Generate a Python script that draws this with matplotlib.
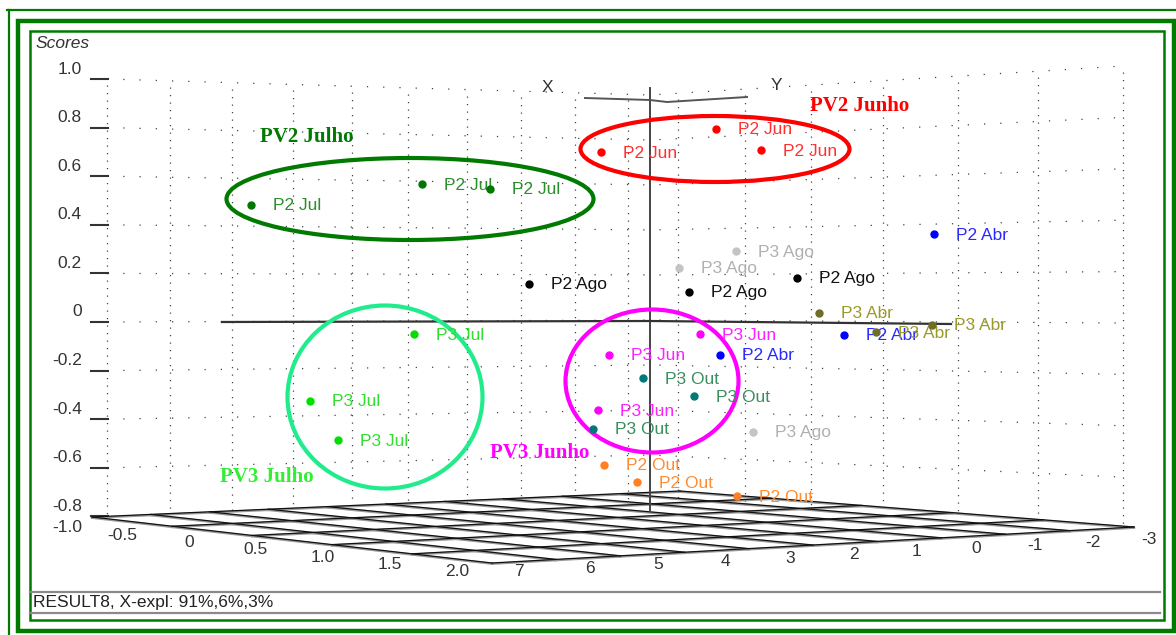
import numpy as np
import matplotlib
matplotlib.use('Agg')
import matplotlib.pyplot as plt
from matplotlib.patches import Ellipse, Rectangle

W, H = 1176, 635

# sample scores in view (screen) coordinates, three replicates per sample
names = ['P2 Jul'] * 3 + ['P2 Jun'] * 3 + ['P3 Ago'] * 3 + ['P2 Ago'] * 3 + \
        ['P2 Abr'] * 3 + ['P3 Abr'] * 3 + ['P3 Jun'] * 3 + ['P3 Out'] * 3 + \
        ['P3 Jul'] * 3 + ['P2 Out'] * 3
xs = [251, 422, 490, 601, 716, 761, 736, 679, 753, 529, 689, 797,
      934, 720, 844, 819, 876, 932, 700, 609, 598, 643, 694, 593,
      414, 310, 338, 604, 637, 737]
ys = [205, 184, 189, 152, 129, 150, 251, 268, 432, 284, 292, 278,
      234, 355, 335, 313, 332, 325, 334, 355, 410, 378, 396, 429,
      334, 401, 440, 465, 482, 496]

# marker colour, label colour
colors = {
    'P2 Jul': ('#007800', '#2a8f2a'),
    'P2 Jun': ('#ff0000', '#ff3030'),
    'P3 Ago': ('#c4c4c4', '#b0b0b0'),
    'P2 Ago': ('#000000', '#111111'),
    'P2 Abr': ('#0000ff', '#2a2aff'),
    'P3 Abr': ('#6e6e2a', '#9a9a28'),
    'P3 Jun': ('#ff00ff', '#ff20ff'),
    'P3 Out': ('#007878', '#3a8f5e'),
    'P3 Jul': ('#00e000', '#30dd30'),
    'P2 Out': ('#ff7f27', '#ff8c30'),
}

# sample groups: title, colour, title pos, ellipse centre/width/height
groups = ['PV2 Julho', 'PV2 Junho', 'PV3 Julho', 'PV3 Junho']
group_colors = ['#007a00', '#ff0000', '#33ee33', '#ff00ff']
ell_colors = ['#007a00', '#ff0000', '#20ec8c', '#ff00ff']
title_pos = [(260, 137), (810, 106), (220, 477), (490, 453)]
ell_geom = [(410, 199, 367, 82), (715, 149, 269, 66),
            (385, 397, 195, 183), (652, 381, 173, 143)]

score_ticks = [1.0, 0.8, 0.6, 0.4, 0.2, 0.0, -0.2, -0.4, -0.6, -0.8]
score_labels = ['1.0', '0.8', '0.6', '0.4', '0.2', '0', '-0.2', '-0.4', '-0.6', '-0.8']
x_ticks = ['-0.5', '0', '0.5', '1.0', '1.5', '2.0']
y_ticks = ['7', '6', '5', '4', '3', '2', '1', '0', '-1', '-2', '-3']

wall_cols = [107, 170, 232, 293, 352, 408, 467, 521, 575, 628, 678,
             745, 811, 883, 958, 1038, 1123]

SANS = 'Liberation Sans'
SERIF = 'Liberation Serif'


def wall_y(x, s):
    # back walls in perspective: left wall 107..650, right wall 650..1123
    yl = 322 - 243 * s
    ym = 320 - 225 * s
    yr = 323 - 257 * s
    return np.interp(x, [107, 650, 1123], [yl, ym, yr])


fig = plt.figure(figsize=(W / 100, H / 100), dpi=100)
ax = fig.add_axes([0, 0, 1, 1])
ax.set_xlim(0, W)
ax.set_ylim(H, 0)
ax.axis('off')

# green frames
ax.plot([7, W], [10, 10], color='#007a00', lw=1.6)
ax.plot([9, 9], [10, H], color='#007a00', lw=1.6)
ax.add_patch(Rectangle((18, 21), 1156, 610, fill=False, ec='#007a00', lw=3.2))
ax.add_patch(Rectangle((30, 31), 1134, 589, fill=False, ec='#007a00', lw=1.8))

# dotted wall grid
gx = np.linspace(107, 1123, 400)
for s in score_ticks[:-1]:
    ax.plot(gx, wall_y(gx, s), color='#444444', lw=0.9, ls=(0, (1, 12)))
for c in wall_cols:
    ax.plot([c, c], [wall_y(c, 1.0) + 6, wall_y(c, -0.8) - 2],
            color='#444444', lw=0.9, ls=(0, (1, 5)))

# score axis ticks and labels
for s, lab in zip(score_ticks, score_labels):
    yt = wall_y(107, s)
    ax.plot([91, 108], [yt, yt], color='#333333', lw=1.5)
    ax.text(82, yt - 10, lab, ha='right', va='center', fontsize=12.5,
            family=SANS, color='#333333')
ax.text(82, wall_y(107, -0.8) + 11, '-1.0', ha='right', va='center',
        fontsize=12.5, family=SANS, color='#333333')
ax.text(36, 44, 'Scores', ha='left', va='center', fontsize=12.5,
        family=SANS, style='italic', color='#333333')

# floor grid (bilinear patch)
A = np.array([92, 517])
D = np.array([492, 563])
C = np.array([1134, 527])
B = np.array([680, 491])


def floor(u, v):
    return ((1 - u) * (1 - v))[..., None] * A + (u * (1 - v))[..., None] * D + \
        (u * v)[..., None] * C + ((1 - u) * v)[..., None] * B


t = np.linspace(0, 1, 50)
floor_lines = [floor(np.full_like(t, u), t) for u in np.linspace(0, 1, len(x_ticks))]
floor_lines += [floor(t, np.full_like(t, v)) for v in np.linspace(0, 1, len(y_ticks))]
for p in floor_lines:
    ax.plot(p[:, 0], p[:, 1] + 0.8, color='#9a9a9a', lw=1.6)
for p in floor_lines:
    ax.plot(p[:, 0], p[:, 1], color='#111111', lw=0.9)

for i, lab in enumerate(x_ticks):
    f = i / (len(x_ticks) - 1)
    ax.text(122 + 335 * f, 535 + 37 * f, lab, ha='center', va='center',
            fontsize=12.5, family=SANS, color='#333333')
a = 0.136
for i, lab in enumerate(y_ticks):
    f = i / (len(y_ticks) - 1)
    f = (1 + a) * f / (1 + a * f)
    ax.text(519 + 630 * f, 572 - 32 * f, lab, ha='center', va='center',
            fontsize=12.5, family=SANS, color='#333333')

# 3D axes through the origin
ax.plot([650, 650], [88, 511], color='#444444', lw=1.4)
ax.plot([222, 650, 951], [322, 321, 324], color='#333333', lw=1.6)
ax.plot([585, 650, 667, 747], [98, 100, 102, 97], color='#555555', lw=1.4)
ax.text(547, 87, 'X', ha='center', va='center', fontsize=12.5, family=SANS, color='#333333')
ax.text(776, 85, 'Y', ha='center', va='center', fontsize=12.5, family=SANS, color='#333333')

# group ellipses and titles
for g, gc, ec, (tx, ty), (cx, cy, ew, eh) in zip(groups, group_colors, ell_colors,
                                                 title_pos, ell_geom):
    ax.add_patch(Ellipse((cx, cy), ew, eh, fill=False, ec=ec, lw=3.0, zorder=3))
    ax.text(tx, ty, g, ha='left', va='center', fontsize=15, family=SERIF,
            weight='bold', color=gc, zorder=5)

# score points with labels
for n, x, y in zip(names, xs, ys):
    mc, tc = colors[n]
    ax.plot(x, y, 'o', ms=5, color=mc, mec=mc, zorder=4)
    ax.text(x + 22, y + 1, n, ha='left', va='center', fontsize=12.5,
            family=SANS, color=tc, zorder=4)

# status bar
ax.plot([30, 1160], [592, 592], color='#8a8a8a', lw=1.6)
ax.plot([30, 1160], [613, 613], color='#8a8a8a', lw=1.6)
ax.text(33, 603, 'RESULT8, X-expl: 91%,6%,3%', ha='left', va='center',
        fontsize=12.5, family=SANS, color='#222222')

fig.savefig('out.png', dpi=100, facecolor='white')
